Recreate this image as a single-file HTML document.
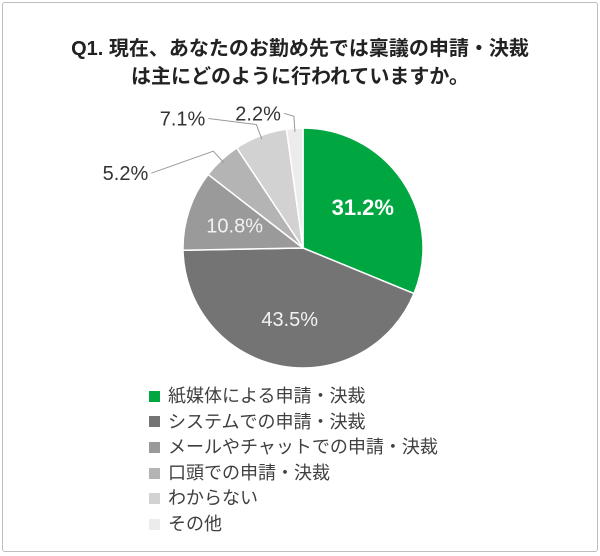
<!DOCTYPE html>
<html><head><meta charset="utf-8"><style>
body{margin:0;background:#fff;}
#wrap{position:relative;width:600px;height:556px;overflow:hidden;background:#fff;font-family:"Liberation Sans","Noto Sans CJK JP",sans-serif;}
#frame{position:absolute;left:2px;top:2px;width:594px;height:548px;border:1px solid #bdbdbd;border-radius:3px;}
.title{position:absolute;left:0;width:600px;text-align:center;font-weight:bold;font-size:20px;color:#222;}
.leg{position:absolute;left:149px;font-size:18px;color:#404040;height:24px;line-height:24px;}
.leg span.sw{display:inline-block;width:11px;height:11px;margin-right:8px;vertical-align:middle;position:relative;top:-1px;}
</style></head><body>
<div id="wrap">
<div id="frame"></div>
<div class="title" style="top:32px">Q1. 現在、あなたのお勤め先では稟議の申請・決裁</div>
<div class="title" style="top:60px">は主にどのように行われていますか。</div>
<svg id="pie" width="600" height="556" style="position:absolute;left:0;top:0"></svg>
<div id="legend"></div>
</div>
<script>
const categories=["紙媒体による申請・決裁","システムでの申請・決裁","メールやチャットでの申請・決裁","口頭での申請・決裁","わからない","その他"];
const values=[31.2,43.5,10.8,5.2,7.1,2.2];
const labels=["31.2%","43.5%","10.8%","5.2%","7.1%","2.2%"];
const colors=["#00a640","#747474","#9a9a9a","#b4b4b4","#d2d2d2","#ececec"];
const cx=303,cy=248,r=120;
const extX={3:62,4:48,5:10};
const extY={3:22,4:-6,5:-3};
const svg=document.getElementById('pie');
const NS="http://www.w3.org/2000/svg";
const total=values.reduce((a,b)=>a+b,0);
function pt(a,rr){return [cx+rr*Math.sin(a),cy-rr*Math.cos(a)];}
let start=0;
values.forEach((v,i)=>{
  const ang=v/total*2*Math.PI,end=start+ang;
  const p1=pt(start,r),p2=pt(end,r);
  const path=document.createElementNS(NS,'path');
  path.setAttribute('d',`M${cx},${cy}L${p1[0]},${p1[1]}A${r},${r} 0 ${ang>Math.PI?1:0} 1 ${p2[0]},${p2[1]}Z`);
  path.setAttribute('fill',colors[i]);path.setAttribute('stroke','#fff');path.setAttribute('stroke-width','1.5');
  
  
  svg.appendChild(path);
  const mid=(start+end)/2;
  const t=document.createElementNS(NS,'text');
  t.setAttribute('font-size','20');
  t.setAttribute('font-family','"Liberation Sans",sans-serif');
  if(v>=10){
    const p=pt(mid,r*0.6);
    t.setAttribute('x',p[0]);t.setAttribute('y',p[1]+7);t.setAttribute('text-anchor','middle');
    t.setAttribute('fill',i==0?'#fff':'#f2f2f2');
    if(i==0){t.setAttribute('font-weight','bold');t.setAttribute('font-size','22');}
  }else{
    const a=pt(mid,r*0.97),b=pt(mid,r*1.1);
    const ex=b[0]-extX[i],ey=b[1]+extY[i];
    const ln=document.createElementNS(NS,'polyline');
    ln.setAttribute('points',`${a[0]},${a[1]} ${b[0]},${b[1]} ${ex},${ey}`);
    ln.setAttribute('fill','none');ln.setAttribute('stroke','#999');ln.setAttribute('stroke-width','1');
    
    
    svg.appendChild(ln);
    t.setAttribute('x',ex-3);t.setAttribute('y',ey+7);t.setAttribute('text-anchor','end');
    t.setAttribute('fill','#333');
  }
  t.textContent=labels[i];
  
  
  svg.appendChild(t);
  start=end;
});
const leg=document.getElementById('legend');
categories.forEach((c,i)=>{
  const d=document.createElement('div');d.className='leg';d.style.top=(384+i*25.6)+'px';
  
  
  d.innerHTML='<span class="sw" style="background:'+colors[i]+'"></span>'+c;
  leg.appendChild(d);
});
</script>
</body></html>
